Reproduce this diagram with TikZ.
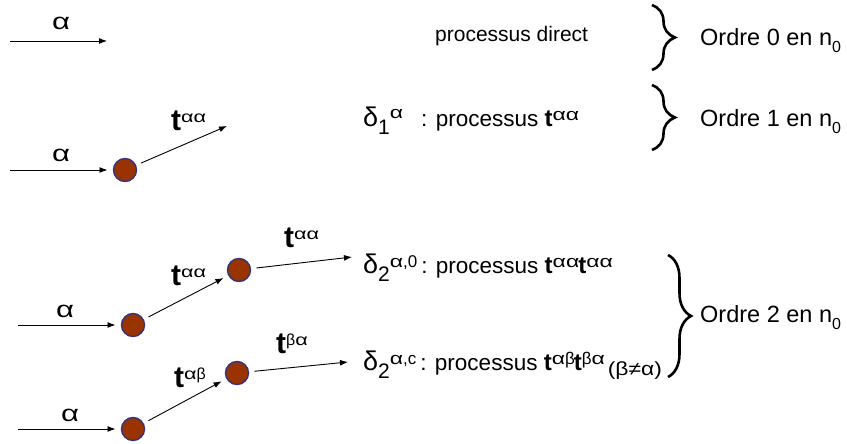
\documentclass[tikz,border=0pt]{standalone}
\usepackage{fontspec}
\usepackage{graphicx}
\setmainfont{Liberation Sans}
\usetikzlibrary{arrows.meta,decorations.pathreplacing}
\definecolor{scatfill}{HTML}{993300}
\definecolor{scatline}{HTML}{33337F}
\tikzset{
  scat/.style={circle, draw=scatline, fill=scatfill, line width=1.4pt,
    minimum size=23pt, inner sep=0pt, outer sep=6pt},
  arr/.style={-{Latex[length=8pt,width=6pt]}, line width=0.9pt},
  brc/.style={decorate, decoration={brace, amplitude=23pt}, line width=2.6pt},
  lbl/.style={anchor=base west, inner sep=0pt},
  inlbl/.style={lbl, font=\fontsize{23}{23}\selectfont},
  proc/.style={lbl, font=\fontsize{22.5}{22.5}\selectfont},
  ordre/.style={lbl, font=\fontsize{23.5}{23.5}\selectfont}
}
% wide alpha, as in the original Symbol font
\newcommand{\alp}{\scalebox{1.35}[1]{α}}
% amplitude t on the arrows, and in the text
\newcommand{\tlab}[1]{{\fontsize{30}{30}\selectfont\bfseries t}\raisebox{8pt}{\fontsize{16}{16}\selectfont #1}}
\newcommand{\tproc}[1]{{\fontsize{24}{24}\selectfont\bfseries t}\raisebox{6pt}{\fontsize{17}{17}\selectfont #1}}
% delta with sub- and superscript
\newcommand{\dlt}[3]{{\fontsize{27}{27}\selectfont δ}\raisebox{-8pt}{\fontsize{21}{21}\selectfont #1}\raisebox{#3}{\fontsize{17}{17}\selectfont #2}}
\newcommand{\nzero}{n\raisebox{-7pt}{\fontsize{16}{16}\selectfont 0}}

\begin{document}
\begin{tikzpicture}[x=1pt, y=-1pt]
  \useasboundingbox (0,0) rectangle (847,444);

  % ---- Ordre 0: processus direct ----
  \coordinate (in0) at (10,41);
  \coordinate (out0) at (107,41);
  \draw[arr] (in0) -- (out0);
  \node[inlbl] (a0) at (52,30) {\alp};
  \node[proc, font=\fontsize{21}{21}\selectfont] (direct) at (435,42) {processus direct};

  % ---- Ordre 1: one scattering ----
  \node[scat] (c1) at (125,170) {};
  \coordinate (in1) at (10,170);
  \coordinate (out1) at (227,126);
  \draw[arr] (in1) -- (c1);
  \draw[arr] (c1) -- (out1);
  \node[inlbl] (a1) at (52,161) {\alp};
  \node[lbl] (t1) at (171,130) {\tlab{\alp\alp}};
  \node[proc] (p1) at (363,127)
    {\dlt{1}{\alp}{9pt}\hspace{18pt}: processus \tproc{\alp\alp}};

  % ---- Ordre 2: double scattering, same species ----
  \node[scat] (c2a) at (133,325) {};
  \node[scat] (c2b) at (239,270) {};
  \coordinate (in2) at (18,325);
  \coordinate (out2) at (352,257);
  \draw[arr] (in2) -- (c2a);
  \draw[arr] (c2a) -- (c2b);
  \draw[arr] (c2b) -- (out2);
  \node[inlbl] (a2) at (56,317) {\alp};
  \node[lbl] (t2a) at (171,285) {\tlab{\alp\alp}};
  \node[lbl] (t2b) at (284,247) {\tlab{\alp\alp}};
  \node[proc] (p2) at (363,273)
    {\dlt{2}{\alp,0}{6pt}\hspace{4pt}: processus \tproc{\alp\alp}\kern-1pt\tproc{\alp\alp}};

  % ---- Ordre 2: double scattering, other species ----
  \node[scat] (c3a) at (133,429) {};
  \node[scat] (c3b) at (237,373) {};
  \coordinate (in3) at (18,429);
  \coordinate (out3) at (348,362);
  \draw[arr] (in3) -- (c3a);
  \draw[arr] (c3a) -- (c3b);
  \draw[arr] (c3b) -- (out3);
  \node[inlbl] (a3) at (61,421) {\alp};
  \node[lbl] (t3a) at (174,387) {\tlab{\alp β}};
  \node[lbl] (t3b) at (276,353) {\tlab{β\alp}};
  \node[proc] (p3) at (363,370)
    {\dlt{2}{\alp,c}{6pt}\hspace{4pt}: processus \tproc{\alp β}\kern-1pt\tproc{β\alp}\hspace{3pt}\raisebox{-5pt}{\scalebox{1.2}[1]{\fontsize{19}{19}\selectfont(β≠α)}}};

  % ---- braces and orders ----
  \coordinate (b0t) at (652,5);
  \coordinate (b0b) at (652,70);
  \coordinate (b1t) at (652,85);
  \coordinate (b1b) at (652,150);
  \coordinate (b2t) at (668,255);
  \coordinate (b2b) at (668,377);
  \draw[brc] (b0t) -- (b0b);
  \draw[brc] (b1t) -- (b1b);
  \draw[brc] (b2t) -- (b2b);
  \node[ordre] (o0) at (700,46) {Ordre 0 en \nzero};
  \node[ordre] (o1) at (700,127) {Ordre 1 en \nzero};
  \node[ordre] (o2) at (700,322) {Ordre 2 en \nzero};
\end{tikzpicture}
\end{document}
